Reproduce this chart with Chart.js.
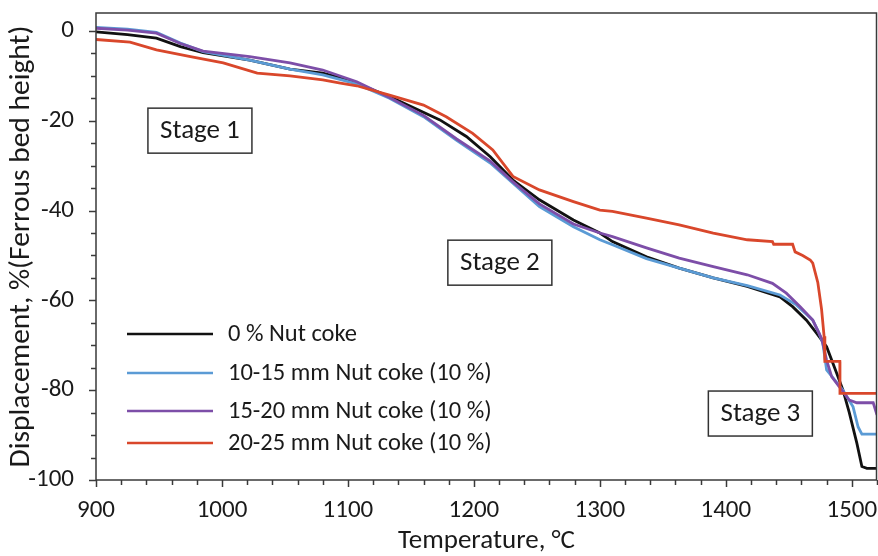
<!DOCTYPE html>
<html><head><meta charset="utf-8">
<script src="https://cdn.jsdelivr.net/npm/chart.js@4"></script>
<style>html,body{margin:0;padding:0;background:#fff}</style>
</head><body>
<canvas id="c" width="878" height="556"></canvas>
<script>
// ---- data ----
const seriesLabels = ['0 % Nut coke', '10-15 mm Nut coke (10 %)', '15-20 mm Nut coke (10 %)', '20-25 mm Nut coke (10 %)'];

const tempNut0 = [900, 925, 948, 967, 985, 1022, 1054, 1080, 1100, 1133, 1173, 1194, 1213, 1231, 1252, 1279, 1300, 1310, 1337, 1363, 1390, 1417, 1443, 1453, 1464, 1472, 1480, 1488, 1493, 1498, 1504, 1508, 1512, 1520];
const dispNut0 = [-0.2, -0.8, -1.6, -3.5, -4.8, -6.5, -8.5, -9.4, -10.9, -14.6, -19.8, -23.5, -28, -33.2, -37.6, -42.1, -45, -46.9, -50.3, -52.8, -55, -56.9, -59.2, -61.4, -64.4, -67.3, -70.3, -76.2, -80, -85, -91.8, -97, -97.4, -97.4];

const temp1015 = [900, 925, 948, 967, 985, 1022, 1054, 1080, 1107, 1133, 1160, 1186, 1213, 1231, 1252, 1279, 1300, 1310, 1337, 1363, 1390, 1417, 1443, 1456, 1469, 1474, 1477, 1480, 1493, 1501, 1505, 1508, 1520];
const disp1015 = [0.8, 0.4, -0.3, -2.7, -4.6, -6.5, -8.5, -9.8, -11.8, -15, -19.1, -24.3, -29.4, -33.9, -39.1, -43.6, -46.5, -47.6, -50.7, -52.8, -55, -56.7, -58.8, -61, -64.4, -67.3, -69.5, -75.5, -80, -83.7, -88.2, -89.8, -89.8];

const temp1520 = [900, 925, 948, 967, 985, 1022, 1054, 1080, 1107, 1133, 1160, 1186, 1213, 1231, 1252, 1279, 1300, 1310, 1337, 1363, 1390, 1417, 1437, 1448, 1459, 1469, 1476, 1480, 1484, 1490, 1498, 1504, 1517, 1520];
const disp1520 = [0.6, 0.2, -0.5, -2.8, -4.5, -5.7, -7.1, -8.7, -11.3, -14.8, -18.8, -24, -29, -33.6, -38.5, -43, -45, -45.8, -48.3, -50.6, -52.5, -54.3, -56.2, -58.4, -61.4, -64.4, -68.5, -73.3, -77, -79.2, -82.2, -82.8, -82.8, -85.5];

const temp2025 = [900, 927, 948, 975, 1001, 1028, 1054, 1080, 1094, 1107, 1133, 1160, 1178, 1199, 1215, 1231, 1252, 1279, 1300, 1310, 1337, 1363, 1390, 1417, 1437, 1438, 1453, 1455, 1461, 1467, 1469, 1473, 1476, 1478, 1478.6, 1490.5, 1490.6, 1520];
const disp2025 = [-1.9, -2.5, -4.2, -5.7, -7.1, -9.4, -10, -10.9, -11.6, -12.2, -14.3, -16.5, -19.1, -22.8, -26.5, -32.4, -35.4, -38, -39.9, -40.2, -41.7, -43.2, -45, -46.5, -46.9, -47.5, -47.5, -49.2, -50, -51, -51.7, -56, -62, -68, -73.6, -73.6, -80.7, -80.7];

const xTickValues = [900, 1000, 1100, 1200, 1300, 1400, 1500];
const yTickValues = [0, -20, -40, -60, -80, -100];
const stageLabels = ['Stage 1', 'Stage 2', 'Stage 3'];
const stageTemps = [982.5, 1220.6, 1427.4];
const stageDisps = [-22.2, -51.6, -85.2];

// ---- styles ----
const colors = ['#111111', '#5b9bd5', '#7d4ea8', '#d9472b'];
const FONT = 'Carlito, Lato, sans-serif';
const TEXT = '#1a1a1a';

function pts(t, d) { return t.map((x, i) => ({x: x, y: d[i]})); }
const seriesData = [pts(tempNut0, dispNut0), pts(temp1015, disp1015), pts(temp1520, disp1520), pts(temp2025, disp2025)];
const drawOrder = [0, 1, 2, 3];

const decor = {
  id: 'decor',
  afterDatasetsDraw(chart) {
    const ctx = chart.ctx, a = chart.chartArea, xs = chart.scales.x, ys = chart.scales.y;
    ctx.save();
    // frame
    ctx.strokeStyle = '#3a3a3a';
    ctx.lineWidth = 1.5;
    ctx.strokeRect(a.left, a.top, a.right - a.left - 0.5, a.bottom - a.top);
    // x ticks
    for (let v = 900; v <= 1520; v += 20) {
      const px = Math.round(xs.getPixelForValue(v)) + 0.5;
      const len = (v % 100 === 0) ? 7 : 5;
      ctx.beginPath(); ctx.moveTo(px, a.bottom); ctx.lineTo(px, a.bottom + len); ctx.stroke();
    }
    for (let v = -100; v <= 0; v += 5) {
      const py = Math.round(ys.getPixelForValue(v)) + 0.5;
      const len = (v % 20 === 0) ? 7 : 5;
      ctx.beginPath(); ctx.moveTo(a.left, py); ctx.lineTo(a.left - len, py); ctx.stroke();
    }
    // stage boxes
    ctx.font = '27px ' + FONT;
    ctx.textAlign = 'center'; ctx.textBaseline = 'middle';
    stageLabels.forEach((s, i) => {
      const cx = xs.getPixelForValue(stageTemps[i]);
      const cy = ys.getPixelForValue(stageDisps[i]);
      const w = 104, h = 45;
      ctx.fillStyle = '#fff';
      ctx.fillRect(cx - w / 2, cy - h / 2, w, h);
      ctx.strokeStyle = '#333'; ctx.lineWidth = 1.5;
      ctx.strokeRect(cx - w / 2, cy - h / 2, w, h);
      ctx.fillStyle = TEXT;
      ctx.fillText(s, cx, cy + 1);
    });
    // legend
    const rows = [334, 373, 411, 443];
    ctx.font = '24.5px ' + FONT;
    ctx.textAlign = 'left';
    chart.data.datasets.forEach((ds, i) => {
      const y = rows[i];
      ctx.strokeStyle = ds.borderColor; ctx.lineWidth = 2.5;
      ctx.beginPath(); ctx.moveTo(127, y); ctx.lineTo(213, y); ctx.stroke();
      ctx.fillStyle = TEXT;
      ctx.fillText(ds.label, 228, y + 1);
    });
    ctx.restore();
  }
};

new Chart(document.getElementById('c'), {
  type: 'scatter',
  data: {
    datasets: drawOrder.map(i => ({
      label: seriesLabels[i],
      data: seriesData[i],
      showLine: true,
      borderColor: colors[i],
      backgroundColor: colors[i],
      borderWidth: 2.8,
      pointRadius: 0,
      tension: 0,
      order: 3 - i
    }))
  },
  options: {
    responsive: false,
    devicePixelRatio: 1,
    animation: false,
    layout: {padding: {left: 0, right: 1, top: 13, bottom: 0}},
    plugins: {legend: {display: false}, tooltip: {enabled: false}},
    scales: {
      x: {
        type: 'linear', min: 900, max: 1520,
        afterBuildTicks: s => { s.ticks = xTickValues.map(v => ({value: v})); },
        afterFit: s => { s.height = 76; s.paddingLeft = 0; s.paddingRight = 0; },
        grid: {display: false, drawTicks: false},
        border: {display: false},
        ticks: {color: TEXT, font: {family: FONT, size: 25}, padding: 16, maxRotation: 0, autoSkip: false,
                callback: v => String(v)},
        title: {display: true, text: 'Temperature, °C', color: TEXT, font: {family: FONT, size: 27}, padding: {top: 0, bottom: -1}}
      },
      y: {
        type: 'linear', min: -100, max: 4,
        afterBuildTicks: s => { s.ticks = yTickValues.map(v => ({value: v})); },
        afterFit: s => { s.width = 96; s.paddingTop = 0; s.paddingBottom = 0; },
        grid: {display: false, drawTicks: false},
        border: {display: false},
        ticks: {color: TEXT, font: {family: FONT, size: 25}, padding: 22, autoSkip: false,
                callback: v => String(v)},
        title: {display: true, text: 'Displacement, %(Ferrous bed height)', color: TEXT, font: {family: FONT, size: 29.5}, padding: {top: 4, bottom: 0}}
      }
    }
  },
  plugins: [decor]
});
</script>
</body></html>
